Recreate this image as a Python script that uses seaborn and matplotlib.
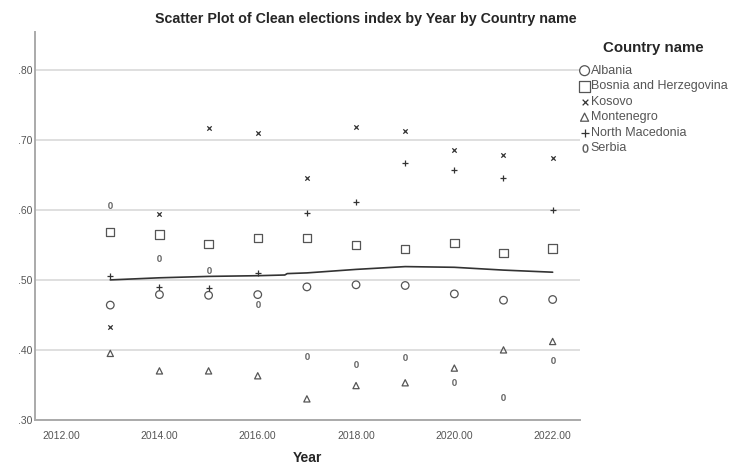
import numpy as np
import pandas as pd
import matplotlib
matplotlib.use('Agg')
import matplotlib.pyplot as plt
import seaborn as sns

sns.set_style('white')
plt.rcParams['font.family'] = ['Liberation Sans', 'DejaVu Sans']

years = [2013, 2014, 2015, 2016, 2017, 2018, 2019, 2020, 2021, 2022]
albania = [0.464, 0.479, 0.478, 0.479, 0.490, 0.493, 0.492, 0.480, 0.471, 0.472]
bosnia = [0.568, 0.565, 0.551, 0.560, 0.560, 0.550, 0.544, 0.553, 0.538, 0.545]
kosovo = [0.433, 0.594, 0.717, 0.710, 0.645, 0.719, 0.713, 0.686, 0.678, 0.674]
montenegro = [0.395, 0.370, 0.370, 0.363, 0.330, 0.349, 0.353, 0.374, 0.400, 0.412]
north_macedonia = [0.505, 0.490, 0.489, 0.510, 0.595, 0.611, 0.667, 0.657, 0.645, 0.600]
serbia = [0.607, 0.531, 0.514, 0.465, 0.391, 0.380, 0.390, 0.354, 0.333, 0.385]

# fit line
fit_x = [2013, 2014, 2015, 2016, 2016.55, 2016.6, 2017, 2018, 2019, 2020, 2021, 2022]
fit_y = [0.500, 0.503, 0.505, 0.506, 0.507, 0.509, 0.510, 0.515, 0.519, 0.518, 0.514, 0.511]

countries = ['Albania', 'Bosnia and Herzegovina', 'Kosovo', 'Montenegro',
             'North Macedonia', 'Serbia']
series = [albania, bosnia, kosovo, montenegro, north_macedonia, serbia]

rows = []
for c, vals in zip(countries, series):
    for y, v in zip(years, vals):
        rows.append({'Year': y, 'Clean elections index': v, 'Country name': c})
df = pd.DataFrame(rows)

fig = plt.figure(figsize=(7.31, 4.66), dpi=100)
ax = fig.add_axes([0.048, 0.099, 0.745, 0.832])

gray = '#555555'
markers = {
    'Albania': ('o', 30, 'hollow'),
    'Bosnia and Herzegovina': ('s', 36, 'hollow'),
    'Kosovo': ('x', 10, 'line'),
    'Montenegro': ('^', 20, 'hollow'),
    'North Macedonia': ('+', 22, 'line'),
    'Serbia': ('$0$', 22, 'text'),
}

for c in countries:
    sub = df[df['Country name'] == c]
    m, s, kind = markers[c]
    if kind == 'hollow':
        sns.scatterplot(data=sub, x='Year', y='Clean elections index', marker=m, s=s,
                        facecolors='none', edgecolors=gray, linewidths=0.9,
                        label=c, ax=ax)
    elif kind == 'line':
        sns.scatterplot(data=sub, x='Year', y='Clean elections index', marker=m, s=s,
                        color='#333333', linewidths=0.9, label=c, ax=ax)
    else:
        sns.scatterplot(data=sub, x='Year', y='Clean elections index', marker=m, s=s,
                        color=gray, edgecolor=gray, linewidths=0.2, label=c, ax=ax)

sns.lineplot(x=fit_x, y=fit_y, color='#333333', linewidth=1.2, ax=ax, legend=False)

ax.set_xlim(2011.47, 2022.55)
ax.set_ylim(0.30, 0.854)
ax.set_yticks([0.30, 0.40, 0.50, 0.60, 0.70, 0.80])
ax.set_yticklabels(['.30', '.40', '.50', '.60', '.70', '.80'])
ax.set_xticks([2012, 2014, 2016, 2018, 2020, 2022])
ax.set_xticklabels(['2012.00', '2014.00', '2016.00', '2018.00', '2020.00', '2022.00'])
ax.tick_params(axis='x', length=0, labelsize=7.5, labelcolor='#555555', pad=8)
ax.tick_params(axis='y', length=0, labelsize=7.5, labelcolor='#555555', pad=2)
ax.yaxis.grid(True, color='#d9d9d9', linewidth=1.2)
ax.set_axisbelow(True)
for sp in ['top', 'right']:
    ax.spines[sp].set_visible(False)
for sp in ['left', 'bottom']:
    ax.spines[sp].set_color('#aaaaaa')
    ax.spines[sp].set_linewidth(1.4)

ax.set_xlabel('Year', fontsize=10, fontweight='bold', labelpad=7)
ax.set_ylabel('')

fig.suptitle('Scatter Plot of Clean elections index by Year by Country name',
             x=0.5, y=0.975, fontsize=10.3, fontweight='bold')

leg = ax.legend(title='Country name', loc='upper left', bbox_to_anchor=(0.792, 0.913),
                bbox_transform=fig.transFigure, frameon=False, fontsize=9,
                title_fontproperties={'weight': 'bold', 'size': 10.8},
                handletextpad=0.05, labelspacing=0.28, borderaxespad=0, borderpad=0,
                markerscale=1.3, handlelength=0.9)
leg._legend_box.sep = 7.5
for t in leg.get_texts():
    t.set_color('#555555')

fig.savefig('out.png', dpi=100)
